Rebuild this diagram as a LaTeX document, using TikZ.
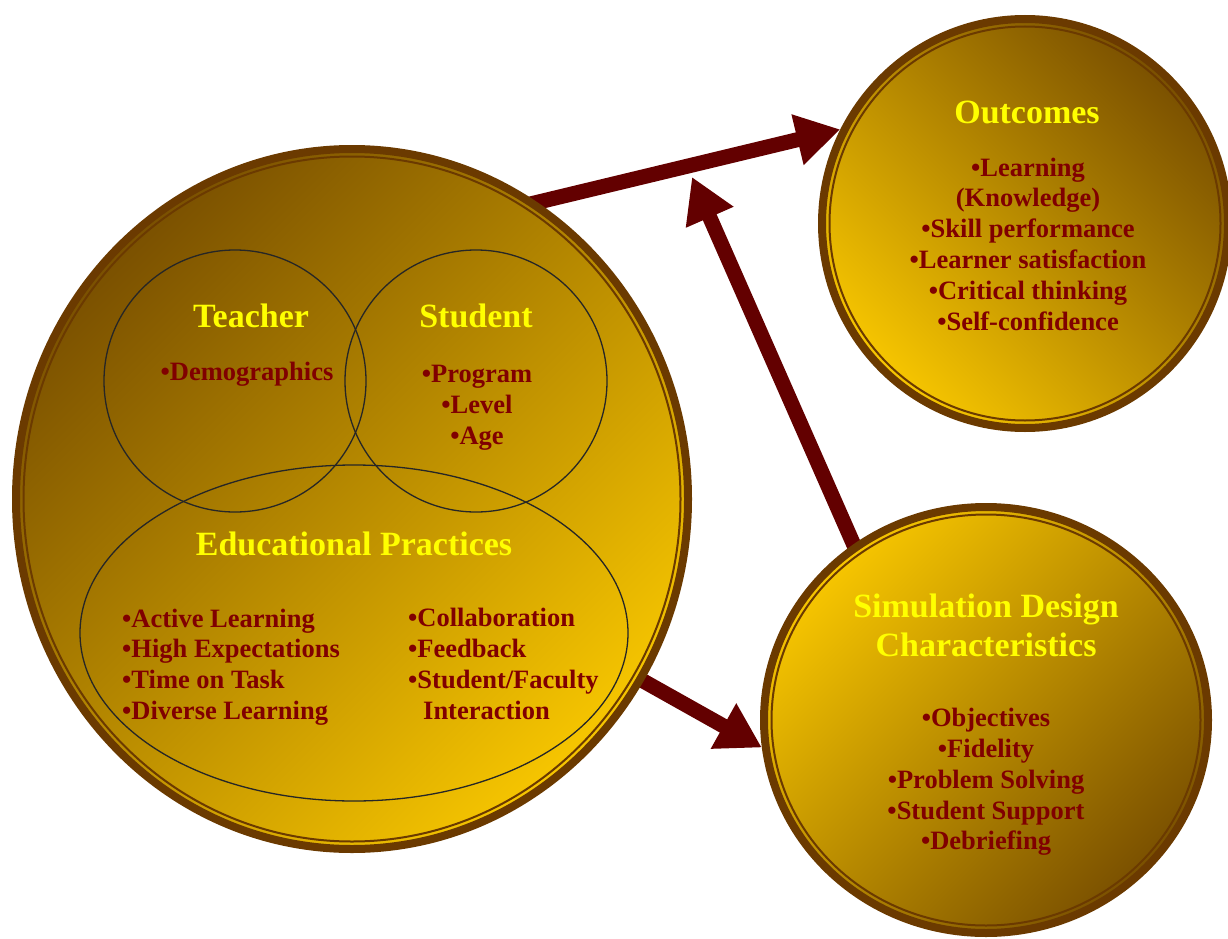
\documentclass[tikz,border=0pt]{standalone}
\usepackage{fontspec}
\setmainfont{Liberation Serif}
\usetikzlibrary{shapes.geometric,arrows.meta,backgrounds}
\definecolor{ringbrown}{HTML}{6B3A00}
\definecolor{darkgold}{HTML}{7A5000}
\definecolor{brightgold}{HTML}{F7C600}
\definecolor{arrowred}{HTML}{630000}
\definecolor{titleyellow}{HTML}{FFFF00}
\definecolor{itemred}{HTML}{800000}

\begin{document}
\begin{tikzpicture}[x=1pt,y=-1pt,
  disc/.style={ellipse, inner sep=0pt, outer sep=4pt, draw=ringbrown, line width=8pt},
  innerring/.style={draw=ringbrown, line width=2pt},
  venn/.style={draw=black!85, line width=1.3pt, inner sep=0pt},
  title/.style={text=titleyellow, font=\fontsize{34}{39}\selectfont\bfseries, align=center, inner sep=0pt},
  items/.style={text=itemred, font=\fontsize{26.5}{30.8}\selectfont\bfseries, inner sep=0pt},
  flow/.style={draw=arrowred, line width=15pt, -{Triangle[length=44pt,width=49pt]}, shorten <=-20pt}
]
\useasboundingbox (0,0) rectangle (1228,939);

% the three discs
\node[disc, minimum width=672pt, minimum height=700pt,
      top color=darkgold, bottom color=brightgold, shading angle=45] (big) at (352,499) {};
\draw[innerring] (big.center) ellipse [x radius=328.5pt, y radius=342.5pt];

\node[disc, minimum width=406pt, minimum height=409pt,
      top color=darkgold, bottom color=brightgold, shading angle=-45] (out) at (1025,223.5) {};
\draw[innerring] (out.center) ellipse [x radius=195.5pt, y radius=197pt];

\node[disc, minimum width=444pt, minimum height=426pt,
      top color=brightgold, bottom color=darkgold, shading angle=45] (sim) at (986,720) {};
\draw[innerring] (sim.center) ellipse [x radius=214.5pt, y radius=205.5pt];

% connectors, drawn behind the discs
\coordinate (join) at (692,177);
\begin{scope}[on background layer]
  \draw[flow] (big.58) -- (out.153);
  \draw[flow] (sim.127) -- (join);
  \draw[flow] (big.-32) -- (sim.187);
\end{scope}

% Venn diagram inside the large disc
\node[venn, circle, minimum size=262pt] (teachercirc) at (235,381) {};
\node[venn, circle, minimum size=262pt] (studentcirc) at (476,381) {};
\node[venn, ellipse, minimum width=548pt, minimum height=336pt] (practicecirc) at (354,633) {};

\node[title] (teacher) at (251,316) {Teacher};
\node[items] (teacheritems) at (247,374) {•Demographics};

\node[title] (student) at (476,316) {Student};
\node[items, align=center] (studentitems) at (477,408) {•Program\\•Level\\•Age};

\node[title] (practice) at (354,544) {Educational Practices};
\node[items, align=left, anchor=west] (practiceleft) at (122,667)
  {•Active Learning\\•High Expectations\\•Time on Task\\•Diverse Learning};
\node[items, align=left, anchor=west] (practiceright) at (408,664)
  {•Collaboration\\•Feedback\\•Student/Faculty\\\hspace*{15pt}Interaction};

% outcomes
\node[title] (outcomes) at (1027,112) {Outcomes};
\node[items, align=center] (outitems) at (1028,244)
  {•Learning\\(Knowledge)\\•Skill performance\\•Learner satisfaction\\•Critical thinking\\•Self-confidence};

% simulation design
\node[title] (simtitle) at (986,625) {Simulation Design\\Characteristics};
\node[items, align=center] (simitems) at (986,782)
  {•Objectives\\•Fidelity\\•Problem Solving\\•Student Support\\•Debriefing};
\end{tikzpicture}
\end{document}
